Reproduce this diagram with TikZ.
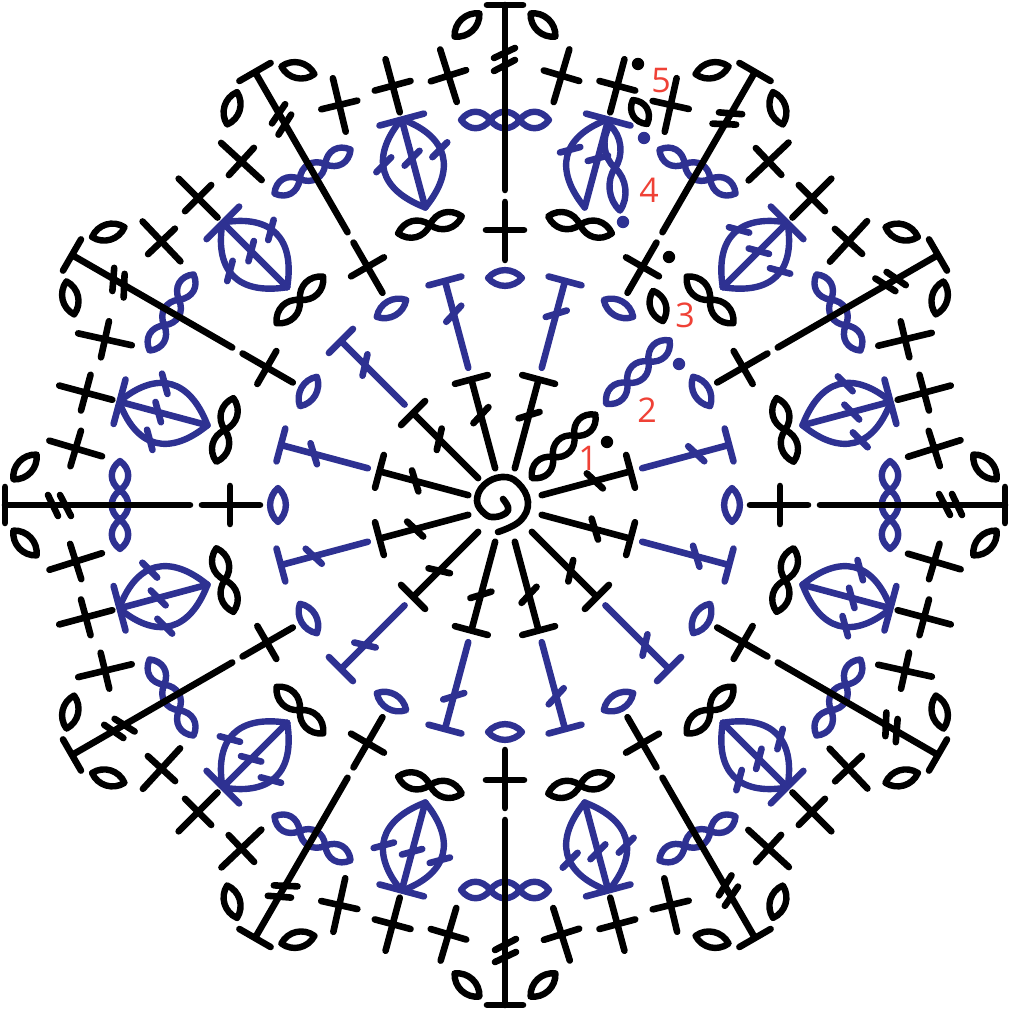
\documentclass[tikz,border=0pt]{standalone}
\usepackage{fontspec}
\setmainfont{Open Sans}
\definecolor{cblue}{HTML}{2E3192}
\definecolor{cred}{HTML}{EF4136}
\tikzset{
  st/.style={line width=6.6pt,line cap=round,line join=round},
  thn/.style={line width=6.4pt,line cap=round,line join=round},
  num/.style={text=cred,inner sep=0pt,font=\fontsize{34}{34}\selectfont}
}
% lens: x y rot halflength
\newcommand\lens[4]{\begin{scope}[shift={(#1,#2)},rotate=#3,xscale=#4/17]
  \draw[thn] (-17,0) .. controls (-8,10.5) and (8,10.5) .. (17,0) .. controls (8,-10.5) and (-8,-10.5) .. cycle;
\end{scope}}
% two-loop chain: x y rot xscale yscale
\newcommand\chaintwo[5]{\begin{scope}[shift={(#1,#2)},rotate=#3,xscale=#4,yscale=#5]
  \draw[thn] (-33,0) .. controls (-24,11) and (-9,11) .. (0,0) .. controls (9,-11) and (24,-11) .. (33,0)
     .. controls (24,11) and (9,11) .. (0,0) .. controls (-9,-11) and (-24,-11) .. cycle;
\end{scope}}
% three-loop chain: x y rot xscale
\newcommand\chainthree[4]{\begin{scope}[shift={(#1,#2)},rotate=#3,xscale=#4]
  \draw[thn] (-44,0) .. controls (-36,11) and (-23,11) .. (-14.7,0) .. controls (-7,-11) and (7,-11) .. (14.7,0)
     .. controls (23,11) and (36,11) .. (44,0) .. controls (36,-11) and (23,-11) .. (14.7,0)
     .. controls (7,11) and (-7,11) .. (-14.7,0) .. controls (-23,-11) and (-36,-11) .. cycle;
\end{scope}}
% plus: position rot
\newcommand\plusst[2]{\begin{scope}[shift={(#1)},rotate=#2]
  \draw[st] (0,-27.5) -- (0,27.5) (-18.5,0) -- (18.5,0);
\end{scope}}
% T stitch with tick: r0 r1 rt
\newcommand\tee[3]{%
  \draw[st] (0,#1) -- (0,#2) (-17,#2) -- (17,#2);
  \begin{scope}[shift={(0,#3)},rotate=32]\draw[st] (-11,0) -- (11,0);\end{scope}}
\newcommand\tick[2]{\begin{scope}[shift={(#1,#2)},rotate=30]\draw[st] (-10.5,0) -- (10.5,0);\end{scope}}
\begin{document}
\begin{tikzpicture}[x=1pt,y=1pt]
\useasboundingbox (-505,-506) rectangle (506,505);
% blue stitches
\begin{scope}[color=cblue]
\foreach \a in {0,30,...,330}{
  \begin{scope}[rotate=\a]
    \lens{0}{227}{0}{17}
    \chainthree{0}{385}{0}{1}
  \end{scope}
  \begin{scope}[rotate=\a-15]
    \ifnum\a=330\relax\else \tee{142}{232}{198}\fi
    \draw[st] (0,308) -- (0,399) (-23,399) -- (23,399);
    \draw[thn] (0,308) .. controls (-40,337) and (-40,370) .. (-2,398);
    \ifnum\a=0\relax\else
      \draw[thn] (0,308) .. controls (40,337) and (40,370) .. (2,398);
      \tick{29}{360}
    \fi
    \tick{-29}{360}
    \tick{0}{359}
  \end{scope}
}
\begin{scope}[rotate=-45]
  \chainthree{0}{188}{90}{1.02}
\end{scope}
\chaintwo{110}{337}{-83.3}{1.3}{0.95}
\fill (174,141) circle (6.2);
\fill (118,283) circle (6.2);
\fill (139,367) circle (6.2);
\end{scope}
% black stitches
\foreach \a in {0,30,...,330}{
  \begin{scope}[rotate=\a]
    \draw[st] (0,245) -- (0,303) (-19,275) -- (19,275);
    \draw[st] (0,315) -- (0,500) (-18,500) -- (18,500);
    \draw[st] (-11,447) -- (10,457) (-11,434) -- (10,445);
    \lens{38}{480}{-43}{17}
    \lens{-38}{480}{43}{17}
  \end{scope}
  \begin{scope}[rotate=\a-15]
    \ifnum\a=330\relax\else \tee{38}{130}{93}\fi
    \chaintwo{0}{290}{0}{1}{1}
    \plusst{97.5:433}{-1.5}
    \plusst{90:434}{0}
    \plusst{82.5:433}{2.5}
  \end{scope}
}
\begin{scope}[rotate=-45]
  \chainthree{0}{83}{90}{1.02}
\end{scope}
\lens{135}{393}{-59}{14}
\lens{153}{199}{-72}{16}
\draw[st] plot[smooth,tension=0.7] coordinates {(-7,-27) (15,-16) (23,3) (13,22) (-3,28) (-21,20) (-28,4) (-20,-9) (-10,-12) (1,-8) (3,-2) (-2,6)};
\fill (102,63) circle (6.2);
\fill (164,248) circle (6.2);
\fill (133,441) circle (6.2);
\node[num] (n1) at (83,47) {1};
\node[num] (n2) at (142,95) {2};
\node[num] (n3) at (180,190) {3};
\node[num] (n4) at (144,315) {4};
\node[num] (n5) at (156,424) {5};
\end{tikzpicture}
\end{document}
